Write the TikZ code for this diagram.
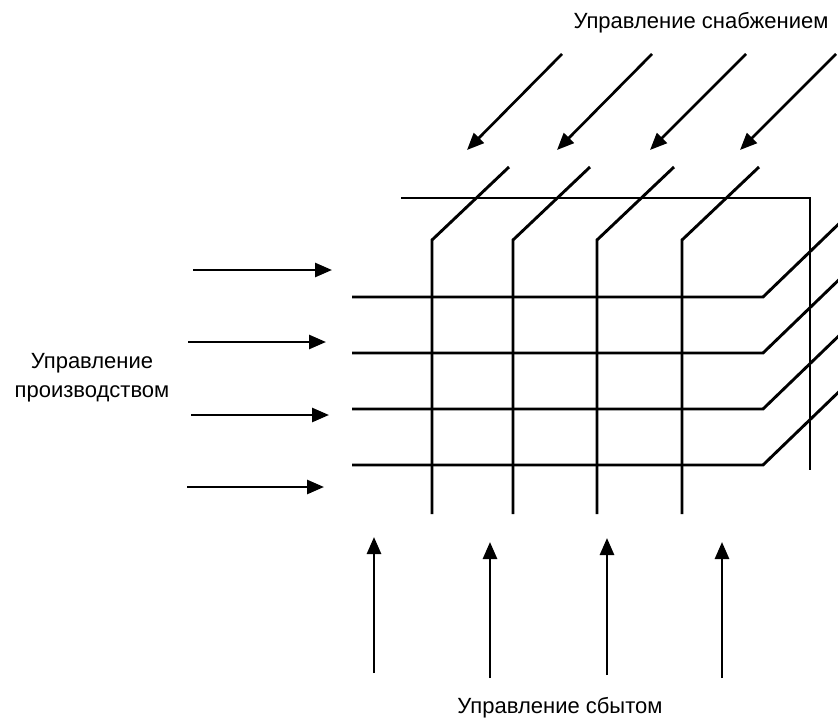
\documentclass[tikz,border=0pt]{standalone}
\usepackage{fontspec}
\setmainfont{Liberation Sans}
\usetikzlibrary{arrows.meta}
\begin{document}
\begin{tikzpicture}[x=1pt,y=-1pt,
  gridline/.style={line width=2.9pt, line join=miter, line cap=butt},
  flow/.style={line width=2.7pt, -{Triangle[length=17pt,width=14pt]}},
  caption/.style={font=\fontsize{22}{29}\selectfont, inner sep=0pt, align=center, text=black}]
\useasboundingbox (0,0) rectangle (838,720);

% ---- the three-dimensional grid ----
\begin{scope}
\clip (0,0) rectangle (838,720);
% back frame
\coordinate (fl) at (401,198);
\coordinate (fc) at (810,198);
\coordinate (fb) at (810,470);
\draw[gridline] (fl) -- (fc) -- (fb);
% rows: horizontal line bending back to the upper right
\foreach \i/\y in {1/297,2/353,3/409,4/465}{
  \coordinate (r\i a) at (352,\y);
  \coordinate (r\i b) at (763,\y);
  \coordinate (r\i c) at (848,\y-82);
  \draw[gridline] (r\i a) -- (r\i b) -- (r\i c);
}
% columns: vertical line bending back to the upper right
\foreach \i/\x in {1/432,2/513,3/597,4/682}{
  \coordinate (c\i a) at (\x,514);
  \coordinate (c\i b) at (\x,240);
  \coordinate (c\i c) at (\x+77,167);
  \draw[gridline] (c\i a) -- (c\i b) -- (c\i c);
}
\end{scope}

% ---- incoming arrows ----
% from the left
\foreach \i/\xa/\xb/\y in {1/193/332/270,2/188/326/342,3/191/329/415,4/187/324/487}{
  \coordinate (ls\i) at (\xa,\y);
  \coordinate (le\i) at (\xb,\y);
  \draw[flow] (ls\i) -- (le\i);
}
% from below
\foreach \i/\x/\ya/\yb in {1/374/673/537,2/490/678/542,3/607/675/538,4/722/678/542}{
  \coordinate (bs\i) at (\x,\ya);
  \coordinate (be\i) at (\x,\yb);
  \draw[flow] (bs\i) -- (be\i);
}
% from the upper right
\foreach \i/\xa/\xb in {1/562/467,2/652/557,3/746/650,4/836/740}{
  \coordinate (ts\i) at (\xa,54);
  \coordinate (te\i) at (\xb,150);
  \draw[flow] (ts\i) -- (te\i);
}

% ---- captions ----
\node[caption] (supply) at (701,23) {Управление снабжением};
\node[caption] (production) at (92,378) {Управление\\производством};
\node[caption] (sales) at (560,708) {Управление сбытом};
\end{tikzpicture}
\end{document}
